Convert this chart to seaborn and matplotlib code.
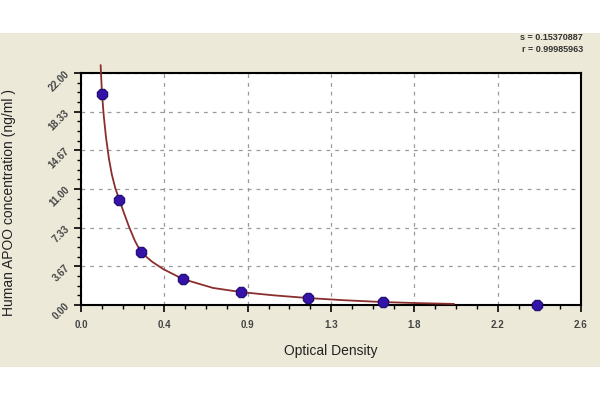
import matplotlib
matplotlib.use("Agg")
import matplotlib.pyplot as plt
import pandas as pd
import seaborn as sns
from matplotlib.patches import Rectangle
from matplotlib.ticker import AutoMinorLocator, FixedLocator

# standard points (optical density vs concentration)
od_values = [0.109, 0.198, 0.312, 0.53, 0.83, 1.18, 1.57, 2.37]
conc_values = [20.0, 10.0, 5.0, 2.5, 1.25, 0.625, 0.312, 0.0]

# fitted curve
curve_od = [0.102, 0.109, 0.118, 0.13, 0.145, 0.16, 0.178, 0.198, 0.22, 0.25,
            0.28, 0.312, 0.37, 0.428, 0.53, 0.686, 0.83, 1.0, 1.18, 1.37,
            1.57, 1.75, 1.94]
curve_conc = [22.75, 20.1, 18.0, 15.9, 13.9, 12.4, 11.1, 10.05, 8.9, 7.4,
              6.1, 5.0, 4.1, 3.4, 2.46, 1.62, 1.23, 0.92, 0.66, 0.45,
              0.28, 0.18, 0.1]

x_ticks = [0.0, 2.6 / 6, 2 * 2.6 / 6, 1.3, 4 * 2.6 / 6, 5 * 2.6 / 6, 2.6]
x_labels = ["0.0", "0.4", "0.9", "1.3", "1.8", "2.2", "2.6"]
y_ticks = [0.0, 22 / 6, 2 * 22 / 6, 11.0, 4 * 22 / 6, 5 * 22 / 6, 22.0]
y_labels = ["0.00", "3.67", "7.33", "11.00", "14.67", "18.33", "22.00"]

s_text = "s = 0.15370887"
r_text = "r = 0.99985963"

sns.set_style("white")
plt.rcParams["font.family"] = ["Liberation Sans", "DejaVu Sans"]

fig = plt.figure(figsize=(6, 4), dpi=100, facecolor="white")
fig.patches.append(Rectangle((0, 33 / 400), 1, 334 / 400, transform=fig.transFigure,
                             facecolor="#ECE9D8", edgecolor="none", zorder=-10))
ax = fig.add_axes([81 / 600, 95 / 400, 500 / 600, 232 / 400])
ax.set_facecolor("white")

curve = pd.DataFrame({"od": curve_od, "conc": curve_conc})
points = pd.DataFrame({"od": od_values, "conc": conc_values})

sns.lineplot(data=curve, x="od", y="conc", color="#8B2E2E", linewidth=1.3,
             sort=False, ax=ax, zorder=3, clip_on=False)
sns.scatterplot(data=points, x="od", y="conc", color="#3512A8", edgecolor="#1A0A6A",
                s=65, marker="8", linewidth=0.8, ax=ax, zorder=4, clip_on=False)

ax.set_xlim(0, 2.6)
ax.set_ylim(0, 22)
ax.xaxis.set_major_locator(FixedLocator(x_ticks))
ax.set_xticklabels(x_labels, fontweight="bold")
ax.yaxis.set_major_locator(FixedLocator(y_ticks))
ax.set_yticklabels(y_labels, rotation=45, fontweight="bold")
ax.xaxis.set_minor_locator(AutoMinorLocator(4))
ax.yaxis.set_minor_locator(AutoMinorLocator(4))
ax.tick_params(axis="both", which="major", direction="out", length=5, width=1.2,
               color="black", labelsize=7, labelcolor="#444444", bottom=True, left=True)
ax.tick_params(axis="both", which="minor", direction="out", length=3, width=1.0,
               color="black", bottom=True, left=True)
ax.tick_params(axis="x", pad=6)
ax.tick_params(axis="y", pad=2)

ax.grid(True, which="major", linestyle=(0, (3, 4)), color="#9A9A9A", linewidth=0.9)
ax.set_axisbelow(True)
for side in ["left", "bottom", "top", "right"]:
    ax.spines[side].set_visible(True)
    ax.spines[side].set_color("black")
    ax.spines[side].set_linewidth(1.5)

ax.set_xlabel("Optical Density", fontsize=10, color="#222222", labelpad=10)
ax.set_ylabel("")
fig.text(9 / 600, 1 - 203 / 400, "Human APOO concentration (ng/ml )", rotation=90,
         ha="center", va="center", fontsize=10, color="#222222")

fig.text(583 / 600, 1 - 38 / 400, s_text, ha="right", va="center", fontsize=6.5,
         fontweight="bold", color="#333333")
fig.text(583 / 600, 1 - 49 / 400, r_text, ha="right", va="center", fontsize=6.5,
         fontweight="bold", color="#333333")

fig.savefig("out.png", dpi=100, facecolor=fig.get_facecolor())
plt.close(fig)
